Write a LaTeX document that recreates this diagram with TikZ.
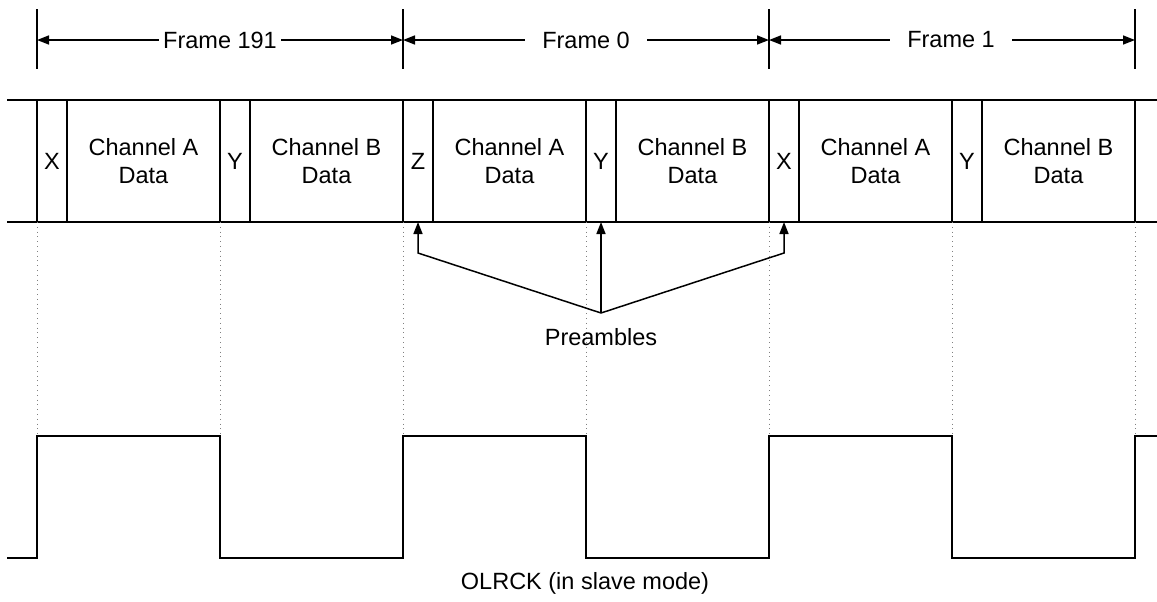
\documentclass[tikz,border=0pt]{standalone}
\usepackage{fontspec}
\setmainfont{Liberation Sans}
\usetikzlibrary{arrows.meta}
\begin{document}
\begin{tikzpicture}[x=0.5pt,y=-0.5pt,
  every node/.style={font=\fontsize{11.75pt}{14pt}\selectfont, inner sep=0pt},
  ln/.style={line width=0.75pt, black},
  cell/.style={draw, line width=0.75pt, outer sep=0pt, minimum height=61pt, anchor=north west, align=center},
  pre/.style={cell, minimum width=15pt},
  dat/.style={cell, minimum width=76.5pt},
  tip/.style={-{Triangle[length=6pt,width=4.5pt]}},
  grid/.style={dotted, gray, line width=0.4pt},
  flbl/.style={fill=white, inner ysep=2pt, inner xsep=8.5pt}
]
\useasboundingbox (0,0) rectangle (1157,601);
% cells
\foreach \i/\p/\ch in {0/X/A, 1/Y/B, 2/Z/A, 3/Y/B, 4/X/A, 5/Y/B}{
  \node[pre] (p\i) at ({37+183*\i},100) {\p};
  \node[dat] (d\i) at ({67+183*\i},100) {Channel \ch\\Data};
}
\draw[ln] (7,100) -- (p0.north west);
\draw[ln] (7,222) -- (p0.south west);
\draw[ln] (d5.north east) -- (1157,100);
\draw[ln] (d5.south east) -- (1157,222);
% dotted guides
\foreach \i in {0,...,6}{
  \draw[grid] ({37+183*\i},222) -- ({37+183*\i},436);
}
% frame ticks
\foreach \i in {0,...,3}{
  \coordinate (t\i) at ({37+366*\i},40);
  \draw[ln] ({37+366*\i},9) -- ({37+366*\i},69);
}
\node[flbl, inner xsep=2pt] (f0) at (220,40) {Frame 191};
\node[flbl] (f1) at (586,40) {Frame 0};
\node[flbl] (f2) at (951,40) {Frame 1};
\draw[ln,tip] (f0.west) -- (t0);
\draw[ln,tip] (f0.east) -- (t1);
\draw[ln,tip] (f1.west) -- (t1);
\draw[ln,tip] (f1.east) -- (t2);
\draw[ln,tip] (f2.west) -- (t2);
\draw[ln,tip] (f2.east) -- (t3);
% preambles
\node (pr) at (601,337) {Preambles};
\coordinate (hub) at (601,313);
\draw[ln,tip] (hub) -- (p2.south |- 0,253) -- (p2.south);
\draw[ln,tip] (hub) -- (p3.south);
\draw[ln,tip] (hub) -- (p4.south |- 0,253) -- (p4.south);
% waveform
\draw[ln] (7,558) -- (37,558) -- (37,436) -- (220,436) -- (220,558) -- (403,558)
  -- (403,436) -- (586,436) -- (586,558) -- (769,558) -- (769,436) -- (952,436)
  -- (952,558) -- (1135,558) -- (1135,436) -- (1157,436);
\node (ol) at (585,583) {OLRCK (in slave mode)};
\end{tikzpicture}
\end{document}
